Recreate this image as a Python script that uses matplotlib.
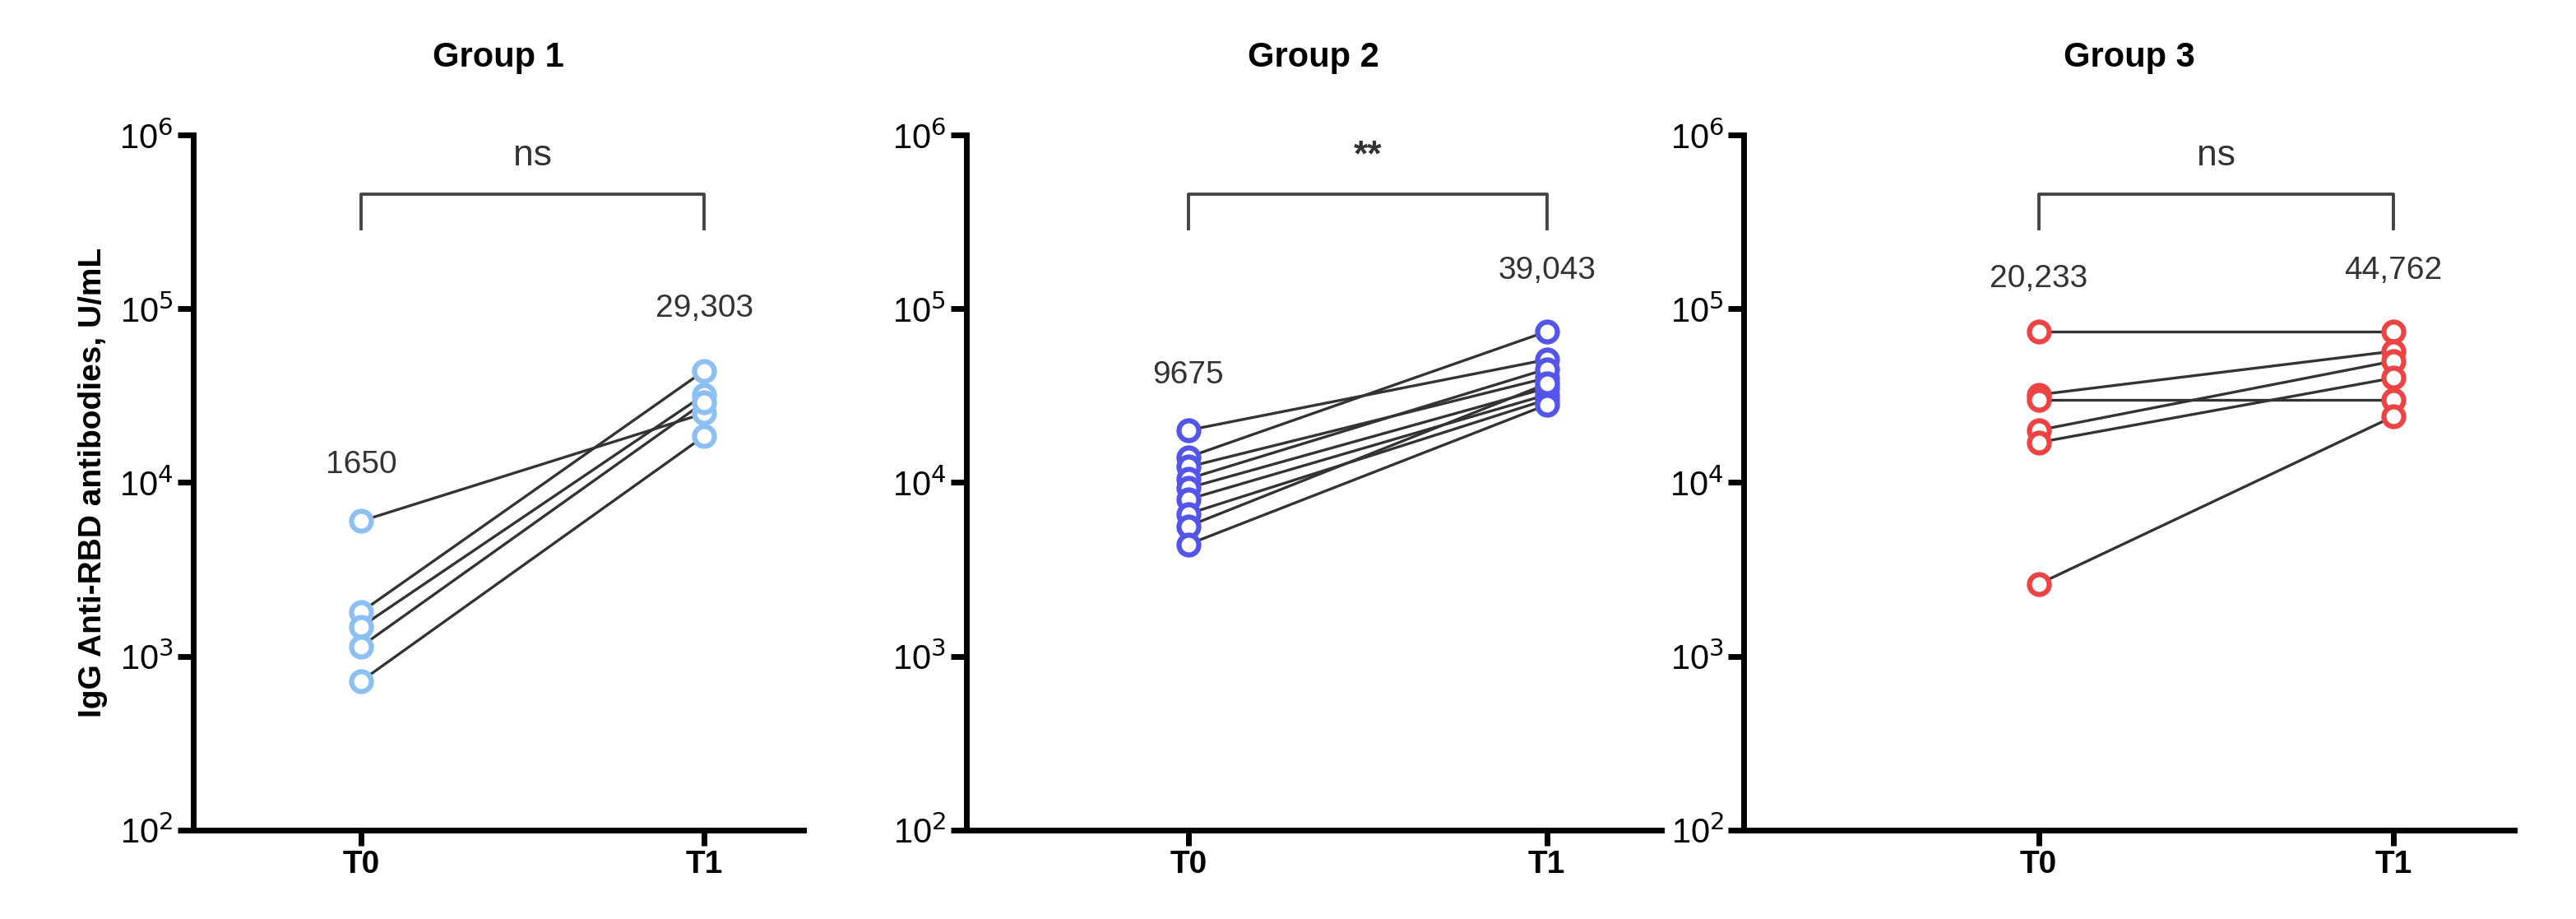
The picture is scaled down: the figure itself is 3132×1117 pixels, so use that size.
import matplotlib.pyplot as plt

plt.rcParams['font.family'] = ['Liberation Sans', 'DejaVu Sans']

titles = ["Group 1", "Group 2", "Group 3"]
colors = ["#8cbff2", "#5454e8", "#ec4444"]
signif = ["ns", "**", "ns"]

g1_t0 = [6000, 1800, 1480, 1140, 720]
g1_t1 = [25000, 44000, 32000, 29000, 18500]
g2_t0 = [20000, 14000, 12300, 10500, 9300, 8000, 6600, 5600, 4400]
g2_t1 = [51000, 74000, 40000, 45000, 35000, 32000, 30000, 37000, 28000]
g3_t0 = [74000, 32000, 30000, 20000, 17000, 2600]
g3_t1 = [74000, 57000, 30000, 50000, 40000, 24000]
t0_data = [g1_t0, g2_t0, g3_t0]
t1_data = [g1_t1, g2_t1, g3_t1]

labels_t0 = ["1650", "9675", "20,233"]
labels_t1 = ["29,303", "39,043", "44,762"]
label_y_t0 = [10**4.1, 10**4.62, 10**5.17]
label_y_t1 = [10**5.0, 10**5.22, 10**5.22]

fig = plt.figure(figsize=(31.32, 11.17), dpi=100)
boxes = [(0.075, 0.237, -0.49, 1.29), (0.375, 0.27, -0.62, 1.32), (0.677, 0.299, -0.83, 1.34)]

for i, (left, w, x0, x1) in enumerate(boxes):
    ax = fig.add_axes([left, 0.097, w, 0.756])
    for a, b in zip(t0_data[i], t1_data[i]):
        ax.plot([0, 1], [a, b], color="#333333", lw=2.4, zorder=2)
    ax.scatter([0] * len(t0_data[i]), t0_data[i], s=300, facecolors="white",
               edgecolors=colors[i], linewidths=4.5, zorder=3)
    ax.scatter([1] * len(t1_data[i]), t1_data[i], s=300, facecolors="white",
               edgecolors=colors[i], linewidths=4.5, zorder=3)
    ax.set_yscale("log")
    ax.set_ylim(1e2, 1e6)
    ax.set_xlim(x0, x1)
    ax.set_xticks([0, 1])
    ax.set_xticklabels(["T0", "T1"], fontsize=28, fontweight="bold")
    ax.set_yticks([1e2, 1e3, 1e4, 1e5, 1e6])
    ax.set_yticklabels([r"10$^{%d}$" % k for k in range(2, 7)], fontsize=30)
    ax.minorticks_off()
    ax.tick_params(width=5, length=14)
    for s in ["top", "right"]:
        ax.spines[s].set_visible(False)
    for s in ["left", "bottom"]:
        ax.spines[s].set_linewidth(5)
    ax.set_title(titles[i], fontsize=30, fontweight="bold", pad=60)
    # significance bracket
    ax.plot([0, 0, 1, 1], [10**5.46, 10**5.66, 10**5.66, 10**5.46], color="#444444", lw=2.8)
    ax.text(0.5, 10**5.88, signif[i], ha="center", va="center", fontsize=32,
            color="#333333", fontweight="bold" if signif[i] == "**" else "normal")
    ax.text(0, label_y_t0[i], labels_t0[i], ha="center", va="center", fontsize=28, color="#333333")
    ax.text(1, label_y_t1[i], labels_t1[i], ha="center", va="center", fontsize=28, color="#333333")
    if i == 0:
        ax.set_ylabel("IgG Anti-RBD antibodies, U/mL", fontsize=28, fontweight="bold", labelpad=10)

fig.savefig("out.png", dpi=100)
